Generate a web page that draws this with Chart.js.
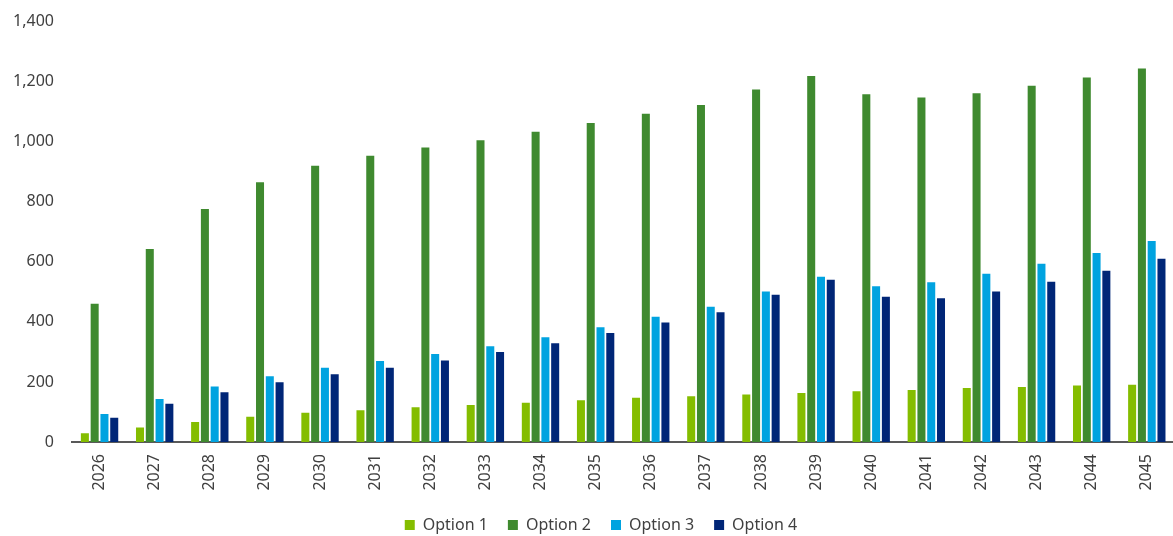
<!DOCTYPE html>
<html>
<head>
<meta charset="utf-8">
<script src="https://cdn.jsdelivr.net/npm/chart.js@4.4.1/dist/chart.umd.min.js"></script>
<style>
  html, body { margin: 0; padding: 0; background: #fff; overflow: hidden; }
  #wrap { position: relative; top: -6px; width: 1178px; height: 549px; }
</style>
</head>
<body>
<div id="wrap"><canvas id="chart"></canvas></div>
<script>
// 年份與四個方案的數值
const years = ['2026', '2027', '2028', '2029', '2030', '2031', '2032', '2033', '2034', '2035',
               '2036', '2037', '2038', '2039', '2040', '2041', '2042', '2043', '2044', '2045'];
const option1 = [29, 48, 67, 84, 97, 106, 116, 123, 131, 139, 147, 152, 158, 163, 169, 173, 180, 183, 188, 191];
const option2 = [460, 643, 776, 865, 920, 953, 981, 1005, 1033, 1062, 1093, 1122, 1174, 1219, 1158, 1147, 1161, 1186, 1214, 1244];
const option3 = [93, 143, 185, 219, 247, 270, 293, 319, 349, 382, 417, 450, 501, 550, 519, 532, 560, 594, 629, 669];
const option4 = [81, 127, 166, 199, 226, 247, 271, 300, 329, 363, 398, 432, 490, 540, 484, 479, 501, 534, 570, 610];
const seriesNames = ['Option 1', 'Option 2', 'Option 3', 'Option 4'];
const yTicks = [0, 200, 400, 600, 800, 1000, 1200, 1400];

const colors = ['#84bd00', '#3f8a2f', '#00a3e0', '#002677'];
const textColor = '#404040';
const fontFamily = '"Noto Sans", "Open Sans", sans-serif';

const datasets = [option1, option2, option3, option4].map((values, i) => ({
    label: seriesNames[i],
    data: values,
    backgroundColor: colors[i],
    borderWidth: 0,
    barPercentage: 0.82,
    categoryPercentage: 0.71
}));

// 圖例置中於繪圖區而非整個畫布，故整體右移
const legendShift = {
    id: 'legendShift',
    afterLayout(chart) {
        const lg = chart.legend;
        if (lg) { lg.left += 12; lg.right += 12; }
    }
};

const chart = new Chart(document.getElementById('chart'), {
    type: 'bar',
    data: { labels: years, datasets },
    plugins: [legendShift],
    options: {
        responsive: true,
        maintainAspectRatio: false,
        animation: false,
        layout: { padding: { top: 6, left: 0, right: 0, bottom: 0 } },
        plugins: {
            tooltip: { enabled: false },
            legend: {
                position: 'bottom',
                labels: {
                    boxWidth: 10,
                    boxHeight: 10,
                    padding: 20,
                    color: textColor,
                    font: { family: fontFamily, size: 16 }
                }
            }
        },
        scales: {
            x: {
                grid: { display: false, drawTicks: false },
                border: { display: true, color: '#595959', width: 2 },
                afterFit: scale => { scale.height = 55; },
                ticks: {
                    color: textColor,
                    padding: 12,
                    minRotation: 90,
                    maxRotation: 90,
                    font: { family: fontFamily, size: 16 }
                }
            },
            y: {
                min: 0,
                max: 1400,
                grid: { display: false, drawTicks: false },
                border: { display: false },
                afterFit: scale => { scale.width = 72; },
                afterBuildTicks: scale => { scale.ticks = yTicks.map(v => ({ value: v })); },
                ticks: {
                    color: textColor,
                    padding: 18,
                    font: { family: fontFamily, size: 16 },
                    callback: v => v.toLocaleString('en-US')
                }
            }
        }
    }
});
</script>
</body>
</html>
